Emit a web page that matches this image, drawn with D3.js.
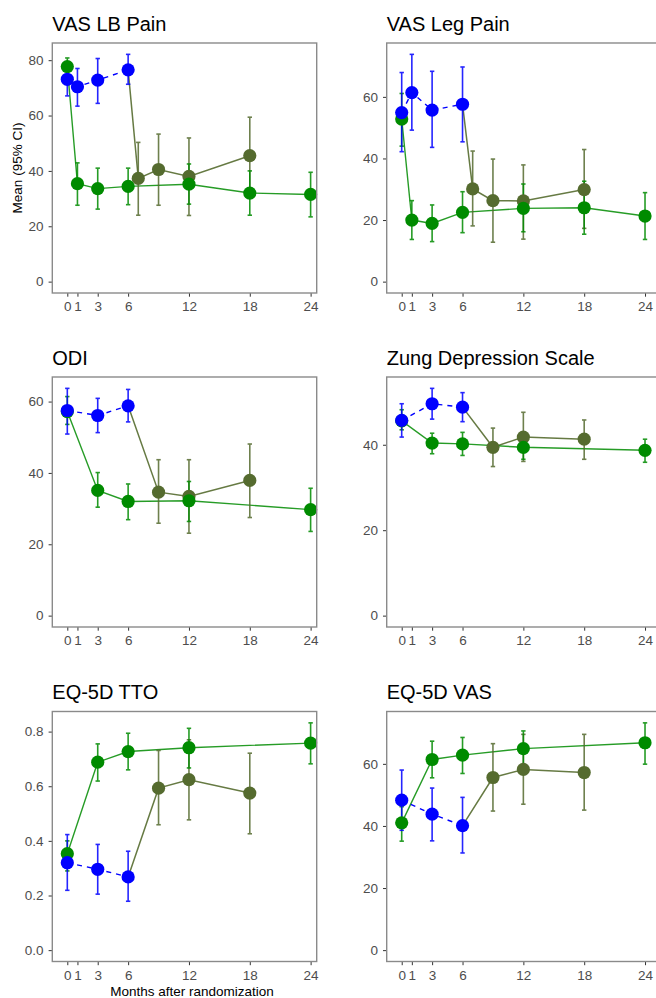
<!doctype html>
<html lang="en">
<head>
	<meta charset="UTF-8">
	<title>Mean outcome scores after randomization</title>
	<style>
		body {
			margin: 0;
			background: #fff;
		}

		svg {
			display: block;
			font-family: 'Liberation Sans', Arial, sans-serif;
		}

		.panel__title {
			font-size: 20px;
			fill: #000;
		}

		.panel__border {
			fill: none;
			stroke: #8a8a8a;
			stroke-width: 1.4;
		}

		.axis .domain {
			display: none;
		}

		.axis .tick line {
			stroke: #333;
			stroke-width: 1;
		}

		.axis .tick text {
			font-size: 13.5px;
			fill: #4d4d4d;
		}

		.axis-title {
			font-size: 13.5px;
			fill: #000;
		}
	</style>
</head>
<body>
	<script src="https://d3js.org/d3.v7.min.js"></script>
	<script>
		// rows are [month, mean, lower 95% CI, upper 95% CI]
		var panelTitles = ['VAS LB Pain', 'VAS Leg Pain', 'ODI', 'Zung Depression Scale', 'EQ-5D TTO', 'EQ-5D VAS'];
		var monthTicks = [0, 1, 3, 6, 12, 18, 24];

		var lbPainTicks = [0, 20, 40, 60, 80];
		var lbPainBlue = [[0, 73.1, 67.1, 78.9], [1, 70.4, 63.4, 77.0], [3, 72.8, 64.4, 80.6], [6, 76.5, 71.3, 82.1]];
		var lbPainGreen = [[0, 77.7, 74.5, 80.8], [1, 35.4, 27.6, 42.9], [3, 33.6, 26.2, 41.0], [6, 34.4, 27.8, 41.0],
			[12, 35.2, 28.0, 42.5], [18, 32.0, 24.0, 40.0], [24, 31.5, 23.4, 39.5]];
		var lbPainOlive = [[7, 37.3, 24.0, 50.3], [9, 40.5, 27.6, 53.3], [12, 38.0, 23.9, 51.9], [18, 45.5, 31.8, 59.4]];

		var legPainTicks = [0, 20, 40, 60];
		var legPainBlue = [[0, 54.9, 42.2, 67.9], [1, 61.4, 49.2, 73.8], [3, 55.7, 43.6, 68.3], [6, 57.6, 45.4, 69.7]];
		var legPainGreen = [[0, 52.8, 44.0, 61.1], [1, 20.0, 13.7, 26.3], [3, 18.9, 13.0, 24.9], [6, 22.5, 15.9, 29.2],
			[12, 23.8, 16.2, 31.7], [18, 24.0, 15.4, 32.6], [24, 21.3, 13.7, 28.9]];
		var legPainOlive = [[7, 30.1, 18.1, 42.4], [9, 26.3, 12.8, 39.8], [12, 26.2, 13.8, 37.9], [18, 29.9, 17.3, 42.9]];

		var odiTicks = [0, 20, 40, 60];
		var odiBlue = [[0, 57.5, 50.9, 63.7], [3, 56.1, 51.3, 60.9], [6, 58.8, 54.3, 63.4]];
		var odiGreen = [[0, 57.2, 53.6, 61.4], [3, 35.1, 30.4, 40.1], [6, 32.0, 26.9, 36.9], [12, 32.2, 26.4, 37.6], [24, 29.7, 23.6, 35.7]];
		var odiOlive = [[9, 34.6, 25.9, 43.7], [12, 33.4, 23.1, 43.7], [18, 37.9, 27.5, 48.1]];

		var zungTicks = [0, 20, 40];
		var zungBlue = [[0, 45.7, 41.8, 49.6], [3, 49.6, 46.0, 53.2], [6, 48.8, 45.4, 52.2]];
		var zungGreen = [[0, 45.6, 43.5, 48.2], [3, 40.4, 37.9, 42.7], [6, 40.2, 37.5, 42.9], [12, 39.4, 36.6, 41.9], [24, 38.7, 35.9, 41.3]];
		var zungOlive = [[9, 39.4, 34.9, 43.9], [12, 41.8, 36.1, 47.6], [18, 41.3, 36.6, 45.8]];

		var ttoTicks = [0, 0.2, 0.4, 0.6, 0.8];
		var ttoBlue = [[0, 0.320, 0.219, 0.423], [3, 0.296, 0.205, 0.387], [6, 0.268, 0.179, 0.362]];
		var ttoGreen = [[0, 0.353, 0.290, 0.400], [3, 0.688, 0.619, 0.755], [6, 0.727, 0.660, 0.794], [12, 0.741, 0.667, 0.812], [24, 0.758, 0.682, 0.832]];
		var ttoOlive = [[9, 0.593, 0.459, 0.731], [12, 0.624, 0.477, 0.770], [18, 0.575, 0.426, 0.721]];

		var eqVasTicks = [0, 20, 40, 60];
		var eqVasBlue = [[0, 48.3, 38.6, 58.0], [3, 43.8, 35.2, 52.2], [6, 40.1, 31.3, 49.2]];
		var eqVasGreen = [[0, 41.0, 35.1, 46.2], [3, 61.4, 55.5, 67.3], [6, 62.8, 56.9, 68.5], [12, 64.9, 59.0, 70.6], [24, 66.8, 59.9, 73.2]];
		var eqVasOlive = [[9, 55.6, 44.8, 66.5], [12, 58.2, 47.0, 69.5], [18, 57.2, 45.1, 69.5]];

		var w = 656,
			h = 998,
			colLeft = [52.3, 386.7],
			colBorderW = [264.4, 280],
			rowTop = [43, 377, 711.5],
			panelW = 264.4,
			panelH = 250,
			xDomain = [-1.48, 24.6],
			pointR = 6.6,
			capHalf = 2.2;

		var colors = {
			blue: '#0000ff',
			green: '#008b00',
			olive: '#556b2f'
		};

		var panels = [
			{ticks: lbPainTicks, blue: lbPainBlue, green: lbPainGreen, olive: lbPainOlive},
			{ticks: legPainTicks, blue: legPainBlue, green: legPainGreen, olive: legPainOlive},
			{ticks: odiTicks, blue: odiBlue, green: odiGreen, olive: odiOlive},
			{ticks: zungTicks, blue: zungBlue, green: zungGreen, olive: zungOlive},
			{ticks: ttoTicks, blue: ttoBlue, green: ttoGreen, olive: ttoOlive, fmt: d3.format('.1f')},
			{ticks: eqVasTicks, blue: eqVasBlue, green: eqVasGreen, olive: eqVasOlive}
		];

		var svg = d3.select('body')
			.append('svg')
			.attr('width', w)
			.attr('height', h);


		/**
		* draw error bars for one series
		*/
		var drawErrorBars = function(g, rows, x, y, color) {
			var bars = g.append('g')
				.attr('stroke', color)
				.attr('stroke-width', 1.6)
				.attr('opacity', 0.85)
				.selectAll('g')
				.data(rows)
				.enter()
				.append('g');

			bars.append('line')
				.attr('x1', function(d) { return x(d[0]); })
				.attr('x2', function(d) { return x(d[0]); })
				.attr('y1', function(d) { return y(d[2]); })
				.attr('y2', function(d) { return y(d[3]); });

			[2, 3].forEach(function(k) {
				bars.append('line')
					.attr('x1', function(d) { return x(d[0]) - capHalf; })
					.attr('x2', function(d) { return x(d[0]) + capHalf; })
					.attr('y1', function(d) { return y(d[k]); })
					.attr('y2', function(d) { return y(d[k]); });
			});
		};


		/**
		* draw points for one series
		*/
		var drawPoints = function(g, rows, x, y, color) {
			g.append('g')
				.selectAll('circle')
				.data(rows)
				.enter()
				.append('circle')
				.attr('cx', function(d) { return x(d[0]); })
				.attr('cy', function(d) { return y(d[1]); })
				.attr('r', pointR)
				.attr('fill', color);
		};


		/**
		* draw one panel
		*/
		var drawPanel = function(p, i) {
			var col = i % 2,
				row = Math.floor(i / 2),
				left = colLeft[col],
				top = rowTop[row];

			var all = p.blue.concat(p.green, p.olive),
				maxHi = d3.max(all, function(d) { return d[3]; }),
				pad = maxHi * 0.05;

			var x = d3.scaleLinear()
				.domain(xDomain)
				.range([left, left + panelW]);

			var y = d3.scaleLinear()
				.domain([-pad, maxHi + pad])
				.range([top + panelH, top]);

			var g = svg.append('g').attr('class', 'panel');

			g.append('text')
				.attr('class', 'panel__title')
				.attr('x', left)
				.attr('y', top - 12.3)
				.text(panelTitles[i]);

			g.append('g')
				.attr('class', 'axis')
				.attr('transform', 'translate(' + left + ',0)')
				.call(d3.axisLeft(y)
					.tickValues(p.ticks)
					.tickSize(3.7)
					.tickPadding(5)
					.tickFormat(p.fmt || d3.format('d')));

			g.append('g')
				.attr('class', 'axis')
				.attr('transform', 'translate(0,' + (top + panelH) + ')')
				.call(d3.axisBottom(x)
					.tickValues(monthTicks)
					.tickSize(3.7)
					.tickPadding(5)
					.tickFormat(d3.format('d')));

			var line = d3.line()
				.x(function(d) { return x(d[0]); })
				.y(function(d) { return y(d[1]); });

			// crossover line starts from the last blue point
			var oliveLine = [p.blue[p.blue.length - 1]].concat(p.olive);

			g.append('path')
				.attr('d', line(oliveLine))
				.attr('fill', 'none')
				.attr('stroke', colors.olive)
				.attr('stroke-width', 1.5)
				.attr('opacity', 0.9);

			g.append('path')
				.attr('d', line(p.green))
				.attr('fill', 'none')
				.attr('stroke', colors.green)
				.attr('stroke-width', 1.4)
				.attr('opacity', 0.85);

			g.append('path')
				.attr('d', line(p.blue))
				.attr('fill', 'none')
				.attr('stroke', colors.blue)
				.attr('stroke-width', 1.4)
				.attr('stroke-dasharray', '5,5');

			drawErrorBars(g, p.olive, x, y, colors.olive);
			drawErrorBars(g, p.green, x, y, colors.green);
			drawErrorBars(g, p.blue, x, y, colors.blue);

			drawPoints(g, p.olive, x, y, colors.olive);
			drawPoints(g, p.green, x, y, colors.green);
			drawPoints(g, p.blue, x, y, colors.blue);

			g.append('rect')
				.attr('class', 'panel__border')
				.attr('x', left)
				.attr('y', top)
				.attr('width', colBorderW[col])
				.attr('height', panelH);
		};


		panels.forEach(drawPanel);

		svg.append('text')
			.attr('class', 'axis-title')
			.attr('text-anchor', 'middle')
			.attr('transform', 'translate(22,168) rotate(-90)')
			.text('Mean (95% CI)');

		svg.append('text')
			.attr('class', 'axis-title')
			.attr('text-anchor', 'middle')
			.attr('x', 192)
			.attr('y', 996)
			.text('Months after randomization');
	</script>
</body>
</html>
